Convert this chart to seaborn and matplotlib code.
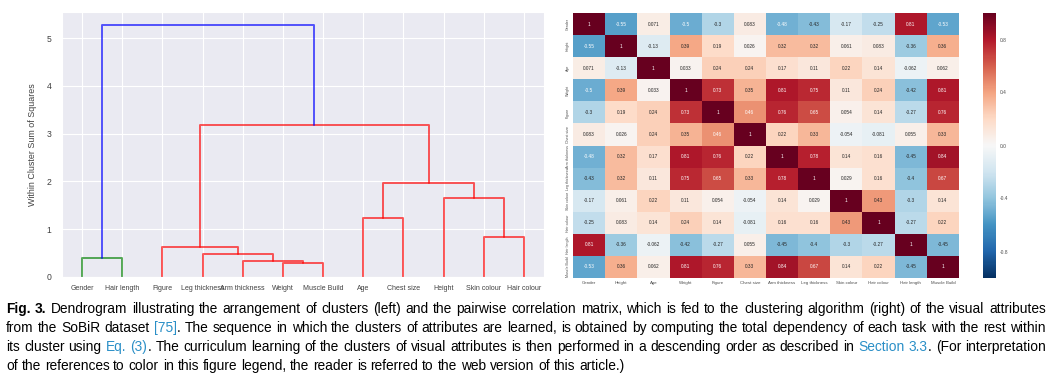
import numpy as np
import pandas as pd
import seaborn as sns
import matplotlib
matplotlib.use("Agg")
import matplotlib.pyplot as plt
from matplotlib import font_manager

# 屬性名稱 (熱圖順序)
attrs = ["Gender", "Height", "Age", "Weight", "Figure", "Chest size",
         "Arm thickness", "Leg thickness", "Skin colour", "Hair colour",
         "Hair length", "Muscle Build"]

# 相關係數矩陣
corr = [
    [1, -0.55, 0.071, -0.5, -0.3, 0.083, -0.48, -0.43, -0.17, -0.25, 0.81, -0.53],
    [-0.55, 1, -0.13, 0.39, 0.19, 0.026, 0.32, 0.32, 0.061, 0.083, -0.36, 0.36],
    [0.071, -0.13, 1, 0.033, 0.24, 0.24, 0.17, 0.11, 0.22, 0.14, -0.062, 0.062],
    [-0.5, 0.39, 0.033, 1, 0.73, 0.35, 0.81, 0.75, 0.11, 0.24, -0.42, 0.81],
    [-0.3, 0.19, 0.24, 0.73, 1, 0.46, 0.76, 0.65, 0.054, 0.14, -0.27, 0.76],
    [0.083, 0.026, 0.24, 0.35, 0.46, 1, 0.22, 0.33, -0.054, -0.081, 0.055, 0.33],
    [-0.48, 0.32, 0.17, 0.81, 0.76, 0.22, 1, 0.78, 0.14, 0.16, -0.45, 0.84],
    [-0.43, 0.32, 0.11, 0.75, 0.65, 0.33, 0.78, 1, 0.029, 0.16, -0.4, 0.67],
    [-0.17, 0.061, 0.22, 0.11, 0.054, -0.054, 0.14, 0.029, 1, 0.43, -0.3, 0.14],
    [-0.25, 0.083, 0.14, 0.24, 0.14, -0.081, 0.16, 0.16, 0.43, 1, -0.27, 0.22],
    [0.81, -0.36, -0.062, -0.42, -0.27, 0.055, -0.45, -0.4, -0.3, -0.27, 1, -0.45],
    [-0.53, 0.36, 0.062, 0.81, 0.76, 0.33, 0.84, 0.67, 0.14, 0.22, -0.45, 1],
]

# 樹狀圖葉節點順序
leaves = ["Gender", "Hair length", "Figure", "Leg thickness", "Arm thickness",
          "Weight", "Muscle Build", "Age", "Chest size", "Height",
          "Skin colour", "Hair colour"]

# 合併: (左, 右, 高度, 顏色)
merges = [
    ("Gender", "Hair length", 0.39, "g"),            # c0
    ("Weight", "Muscle Build", 0.29, "r"),           # c1
    ("Arm thickness", "c1", 0.33, "r"),              # c2
    ("Leg thickness", "c2", 0.49, "r"),              # c3
    ("Figure", "c3", 0.63, "r"),                     # c4
    ("Skin colour", "Hair colour", 0.83, "r"),       # c5
    ("Height", "c5", 1.65, "r"),                     # c6
    ("Age", "Chest size", 1.24, "r"),                # c7
    ("c7", "c6", 1.97, "r"),                         # c8
    ("c4", "c8", 3.17, "r"),                         # c9
    ("c0", "c9", 5.28, "b"),                         # c10
]

sns.set_style("darkgrid")
plt.rcParams["font.family"] = ["Liberation Sans", "DejaVu Sans"]
plt.rcParams["axes.unicode_minus"] = False

W, H = 1051, 377
fig = plt.figure(figsize=(W / 100, H / 100), dpi=100)

ax1 = fig.add_axes([62 / W, 1 - 277 / H, (544 - 62) / W, (277 - 12) / H])
ax2 = fig.add_axes([573 / W, 1 - 278 / H, (959 - 573) / W, (278 - 13) / H])
cax = fig.add_axes([983 / W, 1 - 278 / H, 13 / W, (278 - 13) / H])

# ---- 樹狀圖 ----
pos = {name: 5 + 10 * i for i, name in enumerate(leaves)}
hgt = {name: 0.0 for name in leaves}
for k, (a, b, h, c) in enumerate(merges):
    xa, xb = pos[a], pos[b]
    ax1.plot([xa, xa, xb, xb], [hgt[a], h, h, hgt[b]], color=c, lw=1.4, alpha=0.65)
    pos[f"c{k}"] = (xa + xb) / 2
    hgt[f"c{k}"] = h

ax1.set_xlim(0, 10 * len(leaves))
ax1.set_ylim(0, max(m[2] for m in merges) * 1.05)
ax1.set_xticks([5 + 10 * i for i in range(len(leaves))])
ax1.set_xticklabels(leaves, fontsize=5.0, color=".25")
ax1.set_yticks(range(6))
ax1.tick_params(axis="y", labelsize=6.2, labelcolor=".25", pad=4)
ax1.tick_params(axis="x", pad=2)
ax1.set_ylabel("Within Cluster Sum of Squares", fontsize=6.4, color=".25", labelpad=7)

# ---- 熱圖 ----
df = pd.DataFrame(corr, index=attrs, columns=attrs)
sns.heatmap(df, ax=ax2, cbar_ax=cax, annot=True, fmt=".2g", cmap="RdBu_r",
            vmin=-1, vmax=1, annot_kws={"size": 3.4})
ax2.set_xticklabels(attrs, fontsize=3.2, rotation=0, color=".3")
ax2.set_yticklabels(attrs, fontsize=2.6, rotation=90, va="center", color=".3")
ax2.tick_params(axis="both", length=0, pad=2)
cb = ax2.collections[0].colorbar
cb.set_ticks([-0.8, -0.4, 0.0, 0.4, 0.8])
cb.set_ticklabels(["-0.8", "-0.4", "0.0", "0.4", "0.8"])
cax.tick_params(labelsize=3.5, length=0, pad=3, colors=".3")
cb.outline.set_visible(False)

# ---- 圖說 ----
link = "#2a8fc7"
lines = [
    [("Fig. 3.", "k", "bold"),
     (" Dendrogram illustrating the arrangement of clusters (left) and the pairwise correlation matrix, "
      "which is fed to the clustering algorithm (right) of the visual attributes", "k", "normal")],
    [("from the SoBiR dataset ", "k", "normal"), ("[75]", link, "normal"),
     (". The sequence in which the clusters of attributes are learned, is obtained by computing the total "
      "dependency of each task with the rest within", "k", "normal")],
    [("its cluster using ", "k", "normal"), ("Eq. (3)", link, "normal"),
     (". The curriculum learning of the clusters of visual attributes is then performed in a descending "
      "order as described in ", "k", "normal"), ("Section 3.3", link, "normal"),
     (". (For interpretation", "k", "normal")],
    [("of the references to color in this figure legend, the reader is referred to the web version of "
      "this article.)", "k", "normal")],
]

try:
    font_manager.findfont("Liberation Sans Narrow", fallback_to_default=False)
    fam = ["Liberation Sans Narrow", "DejaVu Sans"]
except Exception:
    fam = ["Liberation Sans", "DejaVu Sans"]

renderer = fig.canvas.get_renderer()


def words_of(line):
    # 逐字元切成單字, 保留每段的顏色與粗細
    chars = [(ch, col, wt) for text, col, wt in line for ch in text]
    words, cur = [], []
    for ch, col, wt in chars:
        if ch == " ":
            if cur:
                words.append(cur)
                cur = []
            continue
        if cur and cur[-1][1] == col and cur[-1][2] == wt:
            cur[-1] = (cur[-1][0] + ch, col, wt)
        else:
            cur.append((ch, col, wt))
    if cur:
        words.append(cur)
    return words


def width(s, size, wt):
    t = fig.text(0, 0, s, fontsize=size, family=fam, weight=wt)
    w = t.get_window_extent(renderer).width
    t.remove()
    return w


x0, x1 = 6, 1046
fs = 10.5
space = width("a a", fs, "normal") - width("aa", fs, "normal")
w0 = words_of(lines[0])
nat = sum(sum(width(p, fs, wt) for p, c, wt in wd) for wd in w0) + space * (len(w0) - 1)
if nat > (x1 - x0):
    fs = fs * (x1 - x0) / nat * 0.99

baselines = [313, 332, 351, 370]
for li, line in enumerate(lines):
    words = words_of(line)
    widths = [[width(p, fs, wt) for p, c, wt in wd] for wd in words]
    total = sum(sum(w) for w in widths)
    if li < 3:
        gap = (x1 - x0 - total) / (len(words) - 1)
    else:
        gap = width("a a", fs, "normal") - width("aa", fs, "normal")
    x = x0
    for wd, ws in zip(words, widths):
        for (p, c, wt), w in zip(wd, ws):
            fig.text(x / W, 1 - baselines[li] / H, p, fontsize=fs, family=fam,
                     weight=wt, color=c, va="baseline", ha="left")
            x += w
        x += gap

fig.savefig("out.png", dpi=100)
